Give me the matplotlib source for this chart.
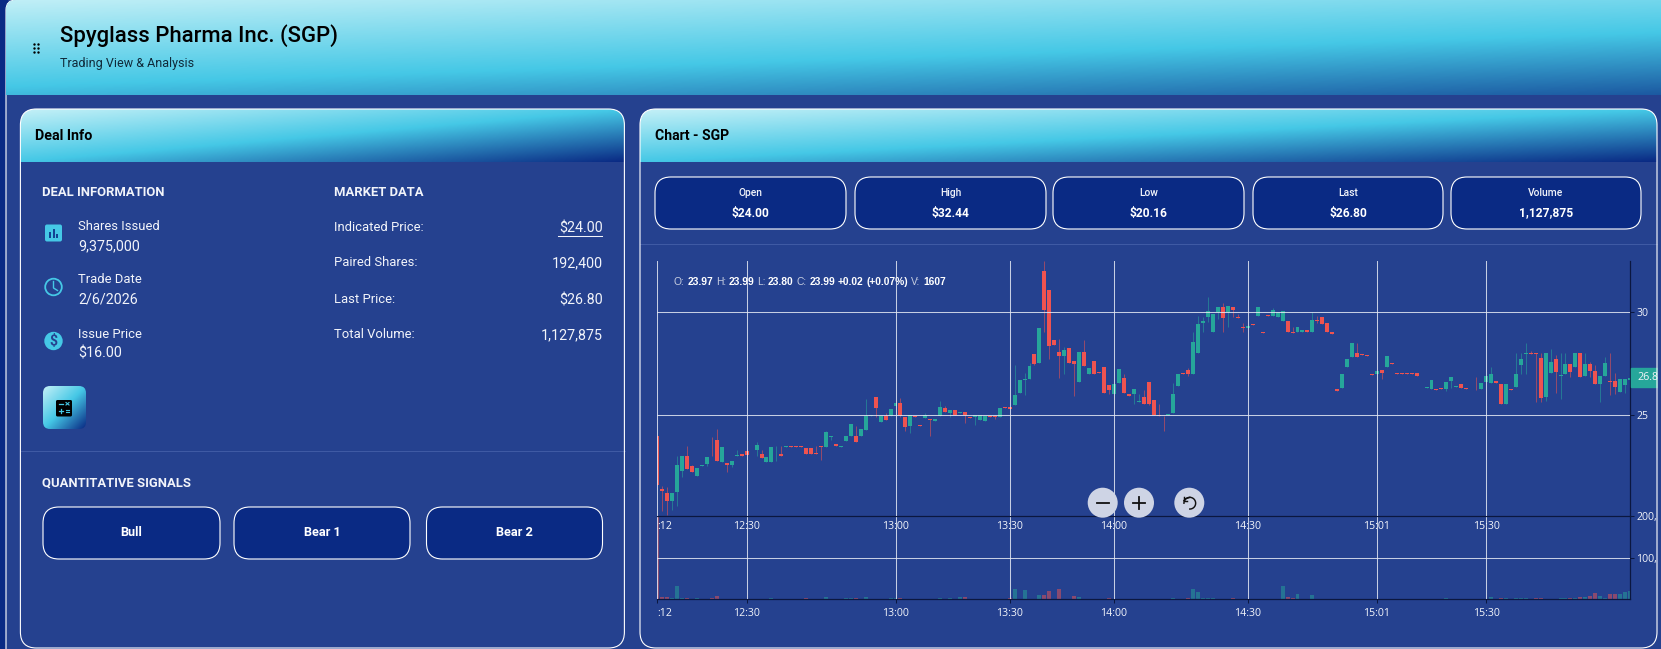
import numpy as np
import matplotlib
matplotlib.use('Agg')
import matplotlib.pyplot as plt
from matplotlib.colors import LinearSegmentedColormap
from matplotlib.patches import Circle, FancyBboxPatch, Rectangle
from matplotlib.transforms import blended_transform_factory

FIG_W = 1661
FIG_H = 649

# One minute candles
opens = [
    24.0, 21.42, 21.24, 20.84, 21.27, 22.27, 23.0, 22.52, 22.03, 22.55,
    22.61, 23.52, 23.81, 22.73, 22.68, 22.56, 23.02, 23.11, 23.24, 23.13,
    23.32, 23.11, 22.74, 22.74, 23.48, 23.11, 23.45, 23.48, 23.48, 23.48,
    23.42, 23.42, 23.15, 23.48, 23.47, 23.95, 23.6, 23.44, 23.74, 24.0,
    24.0, 23.97, 24.27, 24.94, 25.85, 24.68, 24.97, 24.97, 25.44, 25.56,
    24.89, 24.47, 24.97, 24.52, 24.85, 24.8, 24.73, 24.95, 25.32, 25.08,
    25.23, 25.08, 25.15, 24.9, 24.92, 24.74, 24.69, 24.95, 24.95, 24.92,
    25.39, 25.39, 25.48, 26.05, 26.69, 26.74, 27.94, 27.53, 31.98, 31.06,
    28.63, 28.03, 27.84, 28.24, 27.63, 26.61, 28.06, 27.0, 27.61, 27.08,
    27.32, 26.45, 26.0, 26.56, 26.81, 26.0, 26.0, 25.63, 25.89, 26.61,
    25.71, 24.98, 24.97, 24.98, 25.1, 26.41, 27.05, 27.19, 27.0, 28.0,
    29.47, 29.74, 29.0, 30.0, 30.21, 29.97, 30.21, 29.73, 29.26, 29.23,
    29.39, 29.79, 29.0, 29.82, 29.79, 29.74, 29.55, 29.55, 29.0, 29.0,
    29.0, 29.11, 29.03, 29.6, 29.76, 29.47, 29.0, 26.27, 26.31, 27.34,
    27.82, 27.98, 27.95, 27.9, 26.98, 26.97, 27.16, 27.31, 27.5, 27.02,
    27.02, 27.02, 27.02, 27.02, 26.32, 26.29, 26.24, 26.24, 26.29, 26.24,
    26.65, 26.34, 26.5, 26.29, 26.23, 26.23, 26.26, 26.58, 26.56, 26.63,
    26.5, 25.52, 26.24, 26.37, 27.42, 27.94, 27.98, 27.98, 27.76, 25.85,
    27.02, 27.73, 26.87, 26.98, 27.47, 27.34, 28.02, 26.89, 27.47, 27.11,
    26.52, 26.89, 26.65, 26.66, 26.11, 26.44, 26.7,
]
closes = [
    21.63, 21.31, 20.84, 21.24, 22.6, 23.0, 22.4, 22.26, 22.45, 22.6,
    22.98, 23.48, 22.79, 23.47, 22.58, 22.77, 23.08, 23.02, 23.06, 23.1,
    23.55, 22.92, 22.98, 23.44, 23.52, 23.0, 23.48, 23.44, 23.45, 23.45,
    23.13, 23.13, 23.1, 23.44, 24.18, 24.0, 23.48, 23.48, 24.0, 24.56,
    23.69, 24.34, 24.97, 25.0, 25.32, 24.97, 24.76, 25.27, 25.56, 24.97,
    24.44, 24.98, 24.92, 24.47, 24.98, 24.76, 24.81, 25.4, 25.13, 25.23,
    25.0, 25.16, 24.98, 24.85, 24.98, 25.02, 24.94, 24.9, 24.89, 25.32,
    25.34, 25.29, 25.97, 26.71, 26.74, 27.37, 27.47, 29.19, 30.06, 28.35,
    28.39, 27.84, 28.15, 27.53, 27.48, 28.06, 27.39, 27.29, 26.97, 27.03,
    26.05, 26.21, 26.48, 27.24, 26.08, 25.94, 26.24, 25.68, 25.52, 25.55,
    24.98, 24.95, 24.94, 25.05, 26.0, 26.97, 27.0, 26.98, 28.55, 29.42,
    29.53, 30.03, 29.89, 30.21, 29.69, 30.29, 30.1, 29.68, 29.21, 29.31,
    29.34, 30.21, 28.95, 29.77, 30.06, 29.97, 30.03, 29.0, 28.95, 29.24,
    29.11, 29.0, 29.6, 29.55, 29.39, 29.0, 28.94, 26.16, 26.98, 27.69,
    28.5, 27.79, 27.9, 27.85, 26.94, 27.11, 27.03, 27.85, 27.45, 26.98,
    26.98, 26.98, 26.98, 26.87, 26.29, 26.37, 26.68, 26.19, 26.24, 26.58,
    26.85, 26.39, 26.29, 26.24, 26.19, 26.19, 26.55, 26.89, 26.97, 26.53,
    25.52, 26.5, 26.19, 26.97, 27.71, 27.98, 27.94, 27.94, 25.84, 27.98,
    27.58, 27.08, 26.92, 27.47, 27.08, 27.98, 26.82, 27.47, 27.13, 26.52,
    26.9, 27.5, 26.6, 26.34, 26.73, 26.73, 26.8,
]

# Wicks that stick out past the candle body (index: price)
high_wicks = {
    1: 21.58, 2: 21.52, 4: 23.0, 6: 23.48, 7: 22.6, 11: 23.92, 12: 24.34,
    16: 23.29, 20: 23.69, 21: 23.29, 25: 23.48, 32: 23.48, 34: 24.24,
    40: 24.48, 42: 25.76, 46: 25.1, 49: 25.8, 54: 25.08, 57: 25.68,
    58: 25.44, 68: 25.02, 72: 27.42, 74: 27.02, 75: 27.5, 78: 32.44,
    81: 28.68, 82: 28.31, 86: 28.63, 94: 26.98, 97: 26.0, 98: 26.21,
    101: 25.52, 104: 26.53, 107: 27.29, 108: 29.0, 109: 29.77, 110: 29.73,
    111: 30.69, 114: 30.44, 117: 29.87, 118: 29.44, 124: 30.19, 128: 29.24,
    132: 30.0, 133: 29.79, 141: 28.5, 165: 26.85, 168: 27.31, 173: 27.98,
    174: 27.98, 175: 28.5, 176: 28.11, 178: 27.98, 180: 28.21, 181: 27.9,
    182: 27.98, 183: 27.98, 187: 27.98, 188: 27.58, 189: 27.42, 191: 27.79,
    192: 27.98, 193: 27.02,
}
low_wicks = {
    1: 20.34, 2: 20.16, 3: 20.42, 4: 20.61, 5: 22.0, 10: 22.55, 11: 23.0,
    14: 22.23, 15: 22.5, 20: 23.0, 24: 22.79, 33: 22.84, 35: 23.8, 44: 24.92,
    49: 24.9, 50: 24.24, 51: 24.11, 55: 23.98, 59: 24.92, 62: 24.6, 64: 24.52,
    68: 24.79, 74: 25.97, 76: 27.42, 78: 29.0, 79: 27.71, 81: 26.77,
    82: 26.98, 84: 25.92, 91: 26.0, 96: 25.52, 99: 25.47, 102: 24.23,
    107: 26.9, 110: 29.0, 111: 29.52, 113: 29.63, 114: 29.0, 115: 29.27,
    116: 29.73, 118: 29.0, 133: 29.47, 146: 26.73, 159: 26.16, 160: 26.29,
    174: 26.98, 175: 26.98, 177: 25.65, 178: 25.65, 179: 25.69, 181: 26.05,
    182: 25.79, 184: 26.82, 188: 26.82, 190: 25.65, 192: 25.97, 193: 26.0,
    195: 26.05,
}

# Volume per candle, the ones too small to see are left out (index: shares)
volumes = {
    0: 205000, 1: 6500, 2: 6500, 3: 3000, 4: 32000, 5: 4000, 6: 4000, 7: 1600,
    8: 2400, 9: 1000, 11: 2400, 12: 9000, 23: 3000, 30: 2400, 34: 5500,
    35: 1500, 38: 2000, 39: 2000, 40: 2000, 42: 5500, 47: 2000, 48: 2000,
    49: 2000, 57: 3000, 59: 2000, 61: 5500, 62: 5500, 71: 2000, 72: 26000,
    74: 22500, 77: 10000, 78: 10000, 79: 19000, 81: 24000, 82: 1500, 84: 8000,
    85: 5500, 91: 2000, 99: 1500, 104: 2000, 107: 2000, 108: 24000, 109: 17000,
    110: 2000, 111: 2000, 112: 2000, 116: 4000, 126: 32000, 127: 5500,
    128: 2000, 129: 13000, 132: 10000, 159: 2000, 168: 5500, 170: 2000,
    171: 2000, 173: 4000, 174: 2000, 175: 2000, 177: 2000, 178: 2000,
    179: 1500, 182: 2000, 183: 3500, 184: 3500, 185: 3500, 186: 6500,
    187: 6500, 188: 9000, 189: 15500, 190: 8000, 191: 3000, 192: 13000,
    193: 13000, 194: 13000, 195: 18000, 196: 21000,
}

time_ticks = [0, 18, 48, 71, 92, 119, 145, 167]
time_labels = [':12', '12:30', '13:00', '13:30', '14:00', '14:30', '15:01', '15:30']
price_ticks = [25, 30]
volume_ticks = [100000, 200000]
volume_labels = ['100,', '200,']

deal_rows = [('Shares Issued', '9,375,000'), ('Trade Date', '2/6/2026'), ('Issue Price', '$16.00')]
market_rows = [('Indicated Price:', '$24.00'), ('Paired Shares:', '192,400'),
               ('Last Price:', '$26.80'), ('Total Volume:', '1,127,875')]
signal_names = ['Bull', 'Bear 1', 'Bear 2']
stat_names = ['Open', 'High', 'Low', 'Last', 'Volume']
stat_values = ['$24.00', '$32.44', '$20.16', '$26.80', '1,127,875']

BG = '#25418f'
NAVY = '#0a2a84'
CYAN = '#45c8e6'
UP = '#26a69a'
DOWN = '#ef5350'
GRID = '#e4e8f3'
LIGHT = '#f2f4fa'

header_cmap = LinearSegmentedColormap.from_list('header', ['#c4f0f7', CYAN, NAVY])


def px(size):
    return size * 72 / 100


def rounded(ax, x, y, w, h, r, **kwargs):
    patch = FancyBboxPatch((x, y), w, h, boxstyle=f'round,pad=0,rounding_size={r}', **kwargs)
    ax.add_patch(patch)
    return patch


def label(ax, x, y, text, size, color='white', weight='normal', ha='left', family='Roboto', **kwargs):
    return ax.text(x, y, text, fontsize=px(size), color=color, fontweight=weight, ha=ha,
                   va='center', family=family, **kwargs)


def draw_page(bg):
    bg.add_patch(Rectangle((0, 0), 7, FIG_H, color=NAVY, zorder=0))
    rounded(bg, 6, 0, FIG_W + 20, FIG_H + 40, 10, fc=BG, ec='white', lw=0.8, zorder=0.5)

    # Main header, the gradient box runs past the window on the right
    shape = rounded(bg, 6, 0, FIG_W + 20, 130, 10, fc='none', ec='none', zorder=1)
    xs = np.linspace(0, FIG_W - 6, 400)
    ys = np.linspace(0, 95, 120)
    t = (xs[None, :] / 2727 + ys[:, None] / 90) / 2 + 0.017
    image = bg.imshow(t, extent=(6, FIG_W, 95, 0), cmap=header_cmap, vmin=0, vmax=1,
                      aspect='auto', zorder=1, interpolation='bilinear')
    image.set_clip_path(shape)

    bg.scatter([34, 38, 34, 38, 34, 38], [44, 44, 48, 48, 52, 52], s=3, color='black', lw=0, zorder=3)
    label(bg, 59.5, 36, 'Spyglass Pharma Inc. (SGP)', 22.2, 'black', 'medium', zorder=3)
    label(bg, 60, 63.5, 'Trading View & Analysis', 12.5, '#102a3a', zorder=3)


def draw_panel(bg, x0, x1, title, title_size):
    y0 = 109
    y1 = 648
    rounded(bg, x0, y0, x1 - x0, y1 - y0, 16, fc=BG, ec='none', zorder=1)
    head = rounded(bg, x0, y0, x1 - x0, 120, 16, fc='none', ec='none', zorder=1)
    w = x1 - x0
    xs = np.linspace(0, w, 400)
    ys = np.linspace(0, 53, 60)
    t = (xs[None, :] / w + ys[:, None] / 53) / 2
    image = bg.imshow(t, extent=(x0, x1, y0 + 53, y0), cmap=header_cmap, vmin=0, vmax=1,
                      aspect='auto', zorder=1.5, interpolation='bilinear')
    image.set_clip_path(head)
    label(bg, x0 + 15, y0 + 27, title, title_size, 'black', 'bold', zorder=3)


def draw_deal_info(bg):
    label(bg, 42, 192, 'DEAL INFORMATION', 13, LIGHT, 'bold', zorder=3)
    label(bg, 333.5, 192, 'MARKET DATA', 13, LIGHT, 'bold', zorder=3)

    rows_y = [226.5, 279.5, 334]
    for (name, value), y in zip(deal_rows, rows_y):
        label(bg, 78, y, name, 13, LIGHT, zorder=3)
        label(bg, 78, y + 19.5, value, 14.2, LIGHT, zorder=3)

    # Icons
    rounded(bg, 45, 224.5, 17, 17, 2, fc=CYAN, ec='none', zorder=3)
    bg.vlines([50, 53.5, 57], [232, 229, 234], [238, 238, 238], color=NAVY, lw=1.2, zorder=4)
    bg.add_patch(Circle((53.5, 287), 8.3, fc='none', ec=CYAN, lw=1.3, zorder=3))
    bg.plot([53.5, 53.5, 57.5], [281.5, 288, 290.5], color=CYAN, lw=1, zorder=3)
    bg.add_patch(Circle((53.5, 341), 9.2, fc=CYAN, ec='none', zorder=3))
    label(bg, 53.5, 341, '$', 14, BG, 'bold', ha='center', zorder=4)

    # Calculator button
    calc = rounded(bg, 43, 386, 43, 43, 7, fc='none', ec='none', zorder=3)
    xs = np.linspace(0, 1, 60)
    t = (xs[None, :] + xs[:, None]) / 2
    image = bg.imshow(t, extent=(43, 86, 429, 386), cmap=header_cmap, vmin=0, vmax=1,
                      aspect='auto', zorder=3, interpolation='bilinear')
    image.set_clip_path(calc)
    rounded(bg, 56, 400, 16, 16.5, 1.5, fc='black', ec='none', zorder=4)
    bg.plot([59, 62.5], [404, 404], color=CYAN, lw=0.9, zorder=5)
    bg.plot([66, 69], [402.5, 405], color=CYAN, lw=0.8, zorder=5)
    bg.plot([66, 69], [405, 402.5], color=CYAN, lw=0.8, zorder=5)
    bg.plot([59, 62.5], [411, 411], color=CYAN, lw=0.9, zorder=5)
    bg.plot([60.7, 60.7], [409, 413], color=CYAN, lw=0.9, zorder=5)
    bg.plot([66, 69], [410, 410], color=CYAN, lw=0.8, zorder=5)
    bg.plot([66, 69], [412.3, 412.3], color=CYAN, lw=0.8, zorder=5)

    market_y = [227.2, 263, 299.2, 334.7]
    value_y = [228, 263, 300, 335]
    for (name, value), y, vy in zip(market_rows, market_y, value_y):
        label(bg, 333.5, y, name, 13, LIGHT, zorder=3)
        label(bg, 602.5, vy, value, 14.2, LIGHT, ha='right', zorder=3)
    bg.plot([557.5, 602], [236, 236], color=LIGHT, lw=0.75, zorder=3)

    bg.plot([20.5, 624.5], [451, 451], color='#3f5aa4', lw=0.75, zorder=3)
    label(bg, 42, 483, 'QUANTITATIVE SIGNALS', 13, LIGHT, 'bold', zorder=3)

    spans = [(43, 220), (234, 410), (426.5, 602.5)]
    for name, (x0, x1) in zip(signal_names, spans):
        rounded(bg, x0, 507, x1 - x0, 52, 16, fc=NAVY, ec='white', lw=0.8, zorder=3)
        label(bg, (x0 + x1) / 2, 532, name, 12.8, 'white', 'bold', ha='center', zorder=4)


def draw_stats(bg):
    spans = [(655, 846), (855, 1046), (1053, 1244), (1253, 1443), (1451, 1641)]
    for name, value, (x0, x1) in zip(stat_names, stat_values, spans):
        rounded(bg, x0, 177, x1 - x0, 52, 16, fc=NAVY, ec='white', lw=0.8, zorder=3)
        center = (x0 + x1) / 2
        label(bg, center, 193, name, 10.2, LIGHT, 'medium', ha='center', zorder=4)
        label(bg, center, 213, value, 12, 'white', 'bold', ha='center', zorder=4)
    bg.plot([640, 1657], [244, 244], color='#3f5aa4', lw=0.75, zorder=3)


def draw_legend(bg):
    # x positions of the pieces in the one line legend
    pieces = [
        (674, 'O:', 0), (687.3, '23.97', 1), (715.7, 'H:', 0), (728.3, '23.99', 1),
        (757, 'L:', 0), (768, '23.80', 1), (796.7, 'C:', 0), (809.7, '23.99', 1),
        (838, '+0.02', 1), (866.7, '(+0.07%)', 1), (911, 'V:', 0), (923.7, '1607', 1),
    ]
    for x, text, is_value in pieces:
        label(bg, x, 281.7, text, 10.3, 'white' if is_value else '#c6cde0',
              'bold' if is_value else 'normal', family='Liberation Sans', zorder=6)


def draw_chart(fig):
    left = 657.3
    right = 1630
    top = 261
    split = 516
    bottom = 599.3

    ax_price = fig.add_axes([left / FIG_W, 1 - split / FIG_H, (right - left) / FIG_W, (split - top) / FIG_H],
                            zorder=3)
    ax_vol = fig.add_axes([left / FIG_W, 1 - bottom / FIG_H, (right - left) / FIG_W, (bottom - split) / FIG_H],
                          zorder=2)

    o = np.array(opens)
    c = np.array(closes)
    idx = np.arange(len(o))
    colors = [UP if b >= a else DOWN for a, b in zip(o, c)]
    highs = np.maximum(o, c)
    lows = np.minimum(o, c)
    for i, v in high_wicks.items():
        highs[i] = v
    for i, v in low_wicks.items():
        lows[i] = v

    ax_price.vlines(idx, lows, highs, colors=colors, lw=0.72, alpha=0.55, zorder=1)
    ax_price.bar(idx, np.maximum(np.abs(c - o), 0.03), bottom=np.minimum(o, c), width=0.8,
                 color=colors, zorder=1.5)

    vol_idx = list(volumes.keys())
    vol_colors = [colors[i] for i in vol_idx]
    ax_vol.bar(vol_idx, list(volumes.values()), width=0.8, color=vol_colors, alpha=0.5, zorder=1)

    ax_price.set_ylim(20.11, 32.45)
    ax_vol.set_ylim(0, 201000)

    for ax in (ax_price, ax_vol):
        ax.set_xlim(0, len(o) - 1)
        ax.patch.set_visible(False)
        ax.set_axisbelow(False)
        ax.grid(True, color=GRID, lw=0.75, alpha=0.85)
        ax.set_xticks(time_ticks)
        ax.set_xticklabels(time_labels, family='Open Sans', fontsize=px(10.5), color=LIGHT)
        ax.get_xticklabels()[0].set_ha('left')
        ax.yaxis.tick_right()
        for side in ('left', 'top'):
            ax.spines[side].set_visible(False)
        ax.spines['right'].set_color('#0b1740')
        ax.spines['right'].set_linewidth(0.9)
        ax.spines['bottom'].set_color('#0b1740')
        ax.spines['bottom'].set_linewidth(0.9)

    ax_price.tick_params(axis='x', length=0, pad=3.9)
    ax_vol.tick_params(axis='x', length=2.9, width=0.75, color='#0b1740', pad=3.6)

    ax_price.set_yticks(price_ticks)
    ax_price.set_yticklabels([str(v) for v in price_ticks], family='Open Sans', fontsize=px(10.5), color=LIGHT)
    ax_vol.set_yticks(volume_ticks)
    ax_vol.set_yticklabels(volume_labels, family='Open Sans', fontsize=px(10.5), color=LIGHT)
    for ax in (ax_price, ax_vol):
        ax.tick_params(axis='y', length=2.9, width=0.75, color='#0b1740', pad=1.8)

    # Last price marker sits on the price scale
    trans = blended_transform_factory(ax_price.transAxes, ax_price.transData)
    ax_price.add_patch(Rectangle((1.001, closes[-1] - 0.46), 0.0275, 0.92, transform=trans,
                                 color=UP, clip_on=False, zorder=4))
    ax_price.text(1.0072, closes[-1], f'{closes[-1]:.1f}', transform=trans, color=LIGHT,
                  family='Open Sans', fontsize=px(10.8), va='center', ha='left', zorder=5)


def draw_overlay(fig):
    over = fig.add_axes([0, 0, 1, 1], zorder=6)
    over.set_xlim(0, FIG_W)
    over.set_ylim(FIG_H, 0)
    over.axis('off')

    # Zoom buttons
    for x in (1102.7, 1139, 1189.3):
        over.add_patch(Circle((x, 502.7), 15, fc='#ced4e5', ec='none', zorder=2))
    over.plot([1096.7, 1108.7], [502.7, 502.7], color='#111111', lw=1.3, zorder=3)
    over.plot([1133, 1145], [502.7, 502.7], color='#111111', lw=1.3, zorder=3)
    over.plot([1139, 1139], [496.7, 508.7], color='#111111', lw=1.3, zorder=3)

    # Reset icon, open ring with a corner arrow at the upper left
    cx = 1189.8
    cy = 503.2
    angle = np.radians(np.linspace(180, -90, 40) * -1 + 360)
    over.plot(cx + 5.85 * np.cos(angle), cy + 5.85 * np.sin(angle), color='#111111', lw=1.05, zorder=3)
    over.plot([cx, cx - 4.4, cx - 5.85], [cy - 5.85, cy - 4.4, cy - 2.6], color='#111111', lw=1.05, zorder=3)
    over.plot([cx - 5.85, cx - 5.85, cx - 2.6], [cy - 5.85, cy - 2.6, cy - 2.6], color='#111111', lw=1.05, zorder=3)

    # Page strip right of the chart panel and both panel outlines
    over.add_patch(Rectangle((1657.5, 100), 10, 560, color=BG, zorder=4))
    rounded(over, 20.4, 109, 604, 539, 16, fc='none', ec='white', lw=0.8, zorder=5)
    rounded(over, 640, 109, 1017, 539, 16, fc='none', ec='white', lw=0.8, zorder=5)


def main():
    fig = plt.figure(figsize=(FIG_W / 100, FIG_H / 100), dpi=100, facecolor=BG)

    bg = fig.add_axes([0, 0, 1, 1], zorder=0)
    bg.set_xlim(0, FIG_W)
    bg.set_ylim(FIG_H, 0)
    bg.axis('off')

    draw_page(bg)
    draw_panel(bg, 20.4, 624.5, 'Deal Info', 14.2)
    draw_panel(bg, 640, 1657, 'Chart - SGP', 14)
    draw_deal_info(bg)
    draw_stats(bg)
    draw_legend(bg)
    bg.set_xlim(0, FIG_W)
    bg.set_ylim(FIG_H, 0)

    draw_chart(fig)
    draw_overlay(fig)

    fig.savefig('out.png', dpi=100, facecolor=BG)


if __name__ == '__main__':
    main()
